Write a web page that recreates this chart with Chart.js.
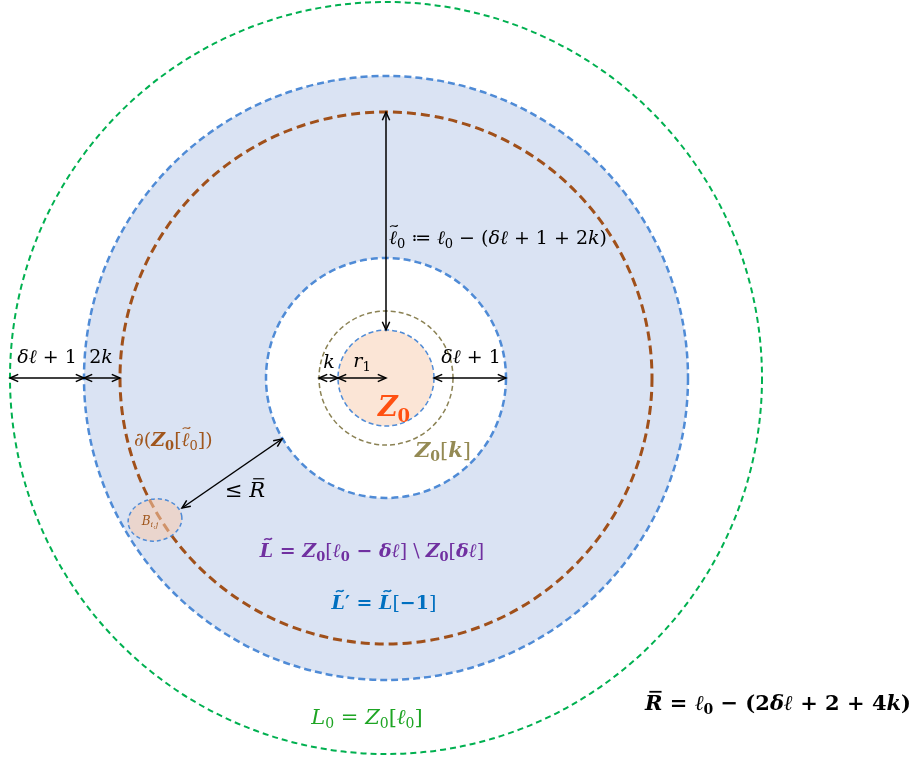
<!DOCTYPE html>
<html>
<head>
<meta charset="utf-8">
<script src="https://cdn.jsdelivr.net/npm/chart.js@4.4.1/dist/chart.umd.min.js"></script>
<style>
  html, body { margin: 0; padding: 0; background: #fff; }
  #wrap { width: 914px; height: 760px; }
</style>
</head>
<body>
<div id="wrap"><canvas id="diagram" width="914" height="760"></canvas></div>
<script>
// data units: centre of the nested balls is (0, 0), y grows upward
const xRange = [-386, 528];
const yRange = [-382, 378];

const ringNames = ["L0", "Zl0", "boundary", "Zdl", "Zk", "Z0"];
const ringRadii = [376, 302, 266, 120, 67, 48];

// radial arrows, given as [from ring, to ring, direction]; null ring = centre
const radialFrom = ["boundary", "L0", "Zl0", "Zk", "Z0", "Z0"];
const radialTo = ["Z0", "Zl0", "boundary", "Z0", null, "Zdl"];
const radialDir = ["up", "left", "left", "left", "left", "right"];

// the small ball B_ij and the distance arrow to Z0[δℓ]
const ballCentre = [-231, -142];
const ballRadii = [27, 21];
const distFrom = [-204, -130];
const distTo = [-104, -61];

const ringStyle = {
    L0: { color: "#00b050", width: 2, dash: [6, 4] },
    Zl0: { color: "#4f8bd6", width: 2.5, dash: [7, 4] },
    boundary: { color: "#a0501a", width: 3, dash: [9, 5] },
    Zdl: { color: "#4f8bd6", width: 2.5, dash: [7, 4] },
    Zk: { color: "#8b8254", width: 1.5, dash: [5, 3] },
    Z0: { color: "#4f8bd6", width: 1.5, dash: [5, 3] }
};

const FONT = "'DejaVu Serif', serif";

// [text, flags] flags: i italic, b bold, s subscript, t tilde above, o bar above
const labels = [
    { at: [-339, 21], size: 19, color: "#000", align: "center", parts: [["δℓ", "i"], [" + 1", ""]] },
    { at: [-285, 21], size: 19, color: "#000", align: "center", parts: [["2", ""], ["k", "i"]] },
    { at: [-57, 16], size: 19, color: "#000", align: "center", parts: [["k", "i"]] },
    { at: [-24, 17], size: 19, color: "#000", align: "center", parts: [["r", "i"], ["1", "s"]] },
    { at: [85, 21], size: 19, color: "#000", align: "center", parts: [["δℓ", "i"], [" + 1", ""]] },
    { at: [3, 140], size: 19, color: "#000", align: "left", parts: [["ℓ", "it"], ["0", "s"], [" ≔ ", ""], ["ℓ", "i"], ["0", "s"], [" − (", ""], ["δℓ", "i"], [" + 1 + 2", ""], ["k", "i"], [")", ""]] },
    { at: [8, -29], size: 27, color: "#ff5011", align: "center", parts: [["Z", "bi"], ["0", "bs"]] },
    { at: [57, -72], size: 21, color: "#948a54", align: "center", parts: [["Z", "bi"], ["0", "bs"], ["[", ""], ["k", "bi"], ["]", ""]] },
    { at: [-252, -62], size: 19, color: "#a0561c", align: "left", parts: [["∂(", ""], ["Z", "bi"], ["0", "bs"], ["[", ""], ["ℓ", "it"], ["0", "s"], ["])", ""]] },
    { at: [-141, -112], size: 21, color: "#000", align: "center", parts: [["≤ ", ""], ["R", "io"]] },
    { at: [-236, -143], size: 12, color: "#a0561c", align: "center", parts: [["B", "i"], ["i,j", "is"]] },
    { at: [-14, -173], size: 19, color: "#7030a0", align: "center", parts: [["L", "bit"], [" = ", "b"], ["Z", "bi"], ["0", "bs"], ["[", ""], ["ℓ", "bi"], ["0", "bs"], [" − ", "b"], ["δℓ", "bi"], ["] \\ ", ""], ["Z", "bi"], ["0", "bs"], ["[", ""], ["δℓ", "bi"], ["]", ""]] },
    { at: [-2, -225], size: 19, color: "#0070c0", align: "center", parts: [["L", "bit"], ["′", "b"], [" = ", "b"], ["L", "bit"], ["[", ""], ["−1", "b"], ["]", ""]] },
    { at: [-19, -339], size: 21, color: "#1ea524", align: "center", parts: [["L", "i"], ["0", "s"], [" = ", ""], ["Z", "i"], ["0", "s"], ["[", ""], ["ℓ", "i"], ["0", "s"], ["]", ""]] },
    { at: [392, -325], size: 21, color: "#000", align: "center", parts: [["R", "bio"], [" = ", "b"], ["ℓ", "i"], ["0", "bs"], [" − (", "b"], ["2", "b"], ["δℓ", "bi"], [" + 2 + 4", "b"], ["k", "bi"], [")", "b"]] }
];

const radiusOf = name => name === null ? 0 : ringRadii[ringNames.indexOf(name)];

function radialPoints(i) {
    const a = radiusOf(radialFrom[i]), b = radiusOf(radialTo[i]);
    if (radialDir[i] === "up") return [{ x: 0, y: a }, { x: 0, y: b }];
    const s = radialDir[i] === "left" ? -1 : 1;
    return [{ x: s * a, y: 0 }, { x: s * b, y: 0 }];
}

const arrowSets = radialFrom.map((_, i) => radialPoints(i));
arrowSets.push([{ x: distFrom[0], y: distFrom[1] }, { x: distTo[0], y: distTo[1] }]);

function fontFor(flags, size) {
    const sz = flags.includes("s") ? Math.round(size * 0.68) : size;
    return (flags.includes("i") ? "italic " : "") + (flags.includes("b") ? "bold " : "") + sz + "px " + FONT;
}

function drawRich(ctx, lab, px, py) {
    ctx.save();
    ctx.fillStyle = lab.color;
    ctx.strokeStyle = lab.color;
    ctx.textBaseline = "alphabetic";
    ctx.textAlign = "left";
    let total = 0;
    const widths = lab.parts.map(([t, f]) => { ctx.font = fontFor(f, lab.size); const w = ctx.measureText(t).width; total += w; return w; });
    let x = lab.align === "center" ? px - total / 2 : px;
    const base = py + lab.size * 0.34;
    lab.parts.forEach(([t, f], i) => {
        ctx.font = fontFor(f, lab.size);
        ctx.fillText(t, x, f.includes("s") ? base + lab.size * 0.2 : base);
        const w = widths[i], top = base - lab.size * 0.97;
        if (f.includes("t")) {
            // small tilde accent
            const mx = x + w * 0.62, hw = lab.size * 0.2, a = lab.size * 0.05;
            ctx.beginPath();
            ctx.lineWidth = f.includes("b") ? 1.6 : 1.1;
            ctx.moveTo(mx - hw, top + a);
            ctx.bezierCurveTo(mx - hw * 0.3, top - a * 3, mx + hw * 0.3, top + a * 3, mx + hw, top - a);
            ctx.stroke();
        }
        if (f.includes("o")) {
            ctx.beginPath();
            ctx.lineWidth = f.includes("b") ? 1.8 : 1.2;
            ctx.moveTo(x + w * 0.25, top + 2);
            ctx.lineTo(x + w * 0.95, top + 2);
            ctx.stroke();
        }
        x += w;
    });
    ctx.restore();
}

function arrowHead(ctx, from, to) {
    const ang = Math.atan2(to.y - from.y, to.x - from.x), len = 9, spread = 0.42;
    ctx.beginPath();
    ctx.moveTo(to.x - len * Math.cos(ang - spread), to.y - len * Math.sin(ang - spread));
    ctx.lineTo(to.x, to.y);
    ctx.lineTo(to.x - len * Math.cos(ang + spread), to.y - len * Math.sin(ang + spread));
    ctx.stroke();
}

const ringsPlugin = {
    id: "rings",
    beforeDatasetsDraw(chart) {
        const { ctx, scales: { x, y } } = chart;
        const cx = x.getPixelForValue(0), cy = y.getPixelForValue(0);
        const rpx = r => x.getPixelForValue(r) - cx;
        const disc = (name, fill) => { ctx.beginPath(); ctx.arc(cx, cy, rpx(radiusOf(name)), 0, Math.PI * 2); ctx.fillStyle = fill; ctx.fill(); };
        const ring = name => {
            const st = ringStyle[name];
            ctx.beginPath(); ctx.arc(cx, cy, rpx(radiusOf(name)), 0, Math.PI * 2);
            ctx.setLineDash(st.dash); ctx.lineWidth = st.width; ctx.strokeStyle = st.color; ctx.stroke();
        };
        ctx.save();
        disc("Zl0", "#dae3f3");
        disc("Zdl", "#ffffff");
        disc("Z0", "#fbe5d6");
        ringNames.forEach(ring);
        // small ball B_ij
        const bx = x.getPixelForValue(ballCentre[0]), by = y.getPixelForValue(ballCentre[1]);
        ctx.beginPath();
        ctx.ellipse(bx, by, rpx(ballRadii[0]), rpx(ballRadii[1]), -0.15, 0, Math.PI * 2);
        ctx.fillStyle = "rgba(248, 203, 173, 0.55)"; ctx.fill();
        ctx.setLineDash([4, 3]); ctx.lineWidth = 1.5; ctx.strokeStyle = "#4f8bd6"; ctx.stroke();
        ctx.restore();
    },
    afterDatasetsDraw(chart) {
        const { ctx, scales: { x, y } } = chart;
        ctx.save();
        ctx.strokeStyle = "#000"; ctx.lineWidth = 1.5; ctx.setLineDash([]);
        chart.data.datasets.forEach((ds, i) => {
            const pts = chart.getDatasetMeta(i).data;
            arrowHead(ctx, pts[0], pts[1]);
            arrowHead(ctx, pts[1], pts[0]);
        });
        labels.forEach(lab => drawRich(ctx, lab, x.getPixelForValue(lab.at[0]), y.getPixelForValue(lab.at[1])));
        ctx.restore();
    }
};

new Chart(document.getElementById("diagram"), {
    type: "scatter",
    data: {
        datasets: arrowSets.map(pts => ({ data: pts, showLine: true, borderColor: "#000", borderWidth: 1.5, pointRadius: 0 }))
    },
    options: {
        responsive: false,
        animation: false,
        layout: { padding: 0 },
        plugins: { legend: { display: false }, tooltip: { enabled: false } },
        scales: {
            x: { type: "linear", min: xRange[0], max: xRange[1], display: false },
            y: { type: "linear", min: yRange[0], max: yRange[1], display: false }
        }
    },
    plugins: [ringsPlugin]
});
</script>
</body>
</html>
